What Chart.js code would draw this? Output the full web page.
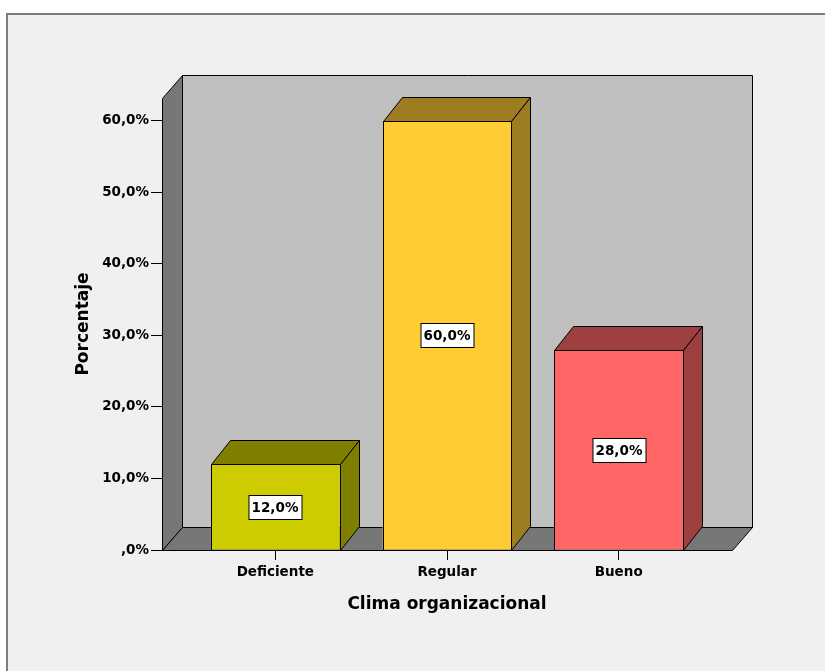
<!DOCTYPE html>
<html>
<head>
<meta charset="utf-8">
<script src="https://cdn.jsdelivr.net/npm/chart.js@4.4.1/dist/chart.umd.min.js"></script>
<style>
  html, body { margin: 0; padding: 0; background: #fff; overflow: hidden; }
  #marco { position: absolute; left: 6px; top: 13px; width: 840px; height: 680px; background: #f0f0f0; border-left: 2px solid #7d7d7d; border-top: 2px solid #7d7d7d; }
  #grafico { position: absolute; left: 0; top: 0; }
</style>
</head>
<body>
<div id="marco"></div>
<canvas id="grafico" width="825" height="671"></canvas>
<script>
// datos
var categorias = ["Deficiente", "Regular", "Bueno"];
var porcentajes = [12.0, 60.0, 28.0];
var ticksY = [0, 10, 20, 30, 40, 50, 60];
var coloresFrente = ["#cccc00", "#ffcc33", "#ff6666"];
var coloresLado = ["#808000", "#9e7c22", "#9e4040"];

var fuente = "DejaVu Sans";
Chart.defaults.font.family = fuente;

function formato(v) {
    if (v === 0) return ",0%";
    return v.toFixed(1).replace(".", ",") + "%";
}

function poligono(ctx, pts, relleno) {
    ctx.beginPath();
    ctx.moveTo(pts[0][0], pts[0][1]);
    for (var i = 1; i < pts.length; i++) ctx.lineTo(pts[i][0], pts[i][1]);
    ctx.closePath();
    ctx.fillStyle = relleno;
    ctx.fill();
    ctx.stroke();
}

// paredes, suelo y caras 3d de las barras
var caja3d = {
    id: "caja3d",
    beforeDatasetsDraw: function (chart) {
        var ctx = chart.ctx, a = chart.chartArea;
        var l = Math.round(a.left) + 0.5, r = Math.round(a.right) + 0.5;
        var t = Math.round(a.top) + 0.5, b = Math.round(a.bottom) + 0.5;
        var dx = 20, dy = 23;
        ctx.save();
        ctx.lineWidth = 1;
        ctx.strokeStyle = "#000";
        poligono(ctx, [[l + dx, t - dy], [r + dx, t - dy], [r + dx, b - dy], [l + dx, b - dy]], "#c0c0c0");
        poligono(ctx, [[l, t], [l + dx, t - dy], [l + dx, b - dy], [l, b]], "#777777");
        poligono(ctx, [[l, b], [l + dx, b - dy], [r + dx, b - dy], [r, b]], "#777777");
        ctx.restore();
    },
    afterDatasetsDraw: function (chart) {
        var ctx = chart.ctx;
        var barras = chart.getDatasetMeta(0).data;
        var dx = 19, dy = 24;
        ctx.save();
        ctx.lineWidth = 1;
        ctx.strokeStyle = "#000";
        barras.forEach(function (barra, i) {
            var p = barra.getProps(["x", "y", "base", "width"], true);
            var izq = Math.round(p.x - p.width / 2) + 0.5;
            var der = Math.round(p.x + p.width / 2) + 0.5;
            var arr = Math.round(p.y) + 0.5;
            var abj = Math.round(p.base) + 0.5;
            ctx.strokeRect(izq, arr, der - izq, abj - arr);
            poligono(ctx, [[izq, arr], [izq + dx, arr - dy], [der + dx, arr - dy], [der, arr]], coloresLado[i]);
            poligono(ctx, [[der, arr], [der + dx, arr - dy], [der + dx, abj - dy], [der, abj]], coloresLado[i]);
        });
        // etiquetas de valor
        ctx.font = "bold 13.5px " + fuente;
        ctx.textAlign = "center";
        ctx.textBaseline = "middle";
        barras.forEach(function (barra, i) {
            var p = barra.getProps(["x", "y", "base"], true);
            var texto = formato(porcentajes[i]);
            var cx = Math.round(p.x), cy = Math.round((p.y + p.base) / 2);
            var w = Math.round(ctx.measureText(texto).width) + 6, h = 24;
            ctx.fillStyle = "#fff";
            ctx.fillRect(cx - w / 2 + 0.5, cy - h / 2 + 0.5, w, h);
            ctx.strokeRect(cx - w / 2 + 0.5, cy - h / 2 + 0.5, w, h);
            ctx.fillStyle = "#000";
            ctx.fillText(texto, cx, cy + 1);
        });
        ctx.restore();
    }
};

new Chart("grafico", {
    type: "bar",
    data: {
        datasets: [
            {
                data: categorias.map(function (c, i) { return { x: i, y: porcentajes[i] }; }),
                backgroundColor: coloresFrente,
                borderWidth: 0,
                barPercentage: 0.75,
                categoryPercentage: 1
            }
        ]
    },
    options: {
        responsive: false,
        animation: false,
        layout: { padding: { top: 98, right: 93, left: 0, bottom: 0 } },
        plugins: {
            legend: { display: false },
            tooltip: { enabled: false }
        },
        scales: {
            x: {
                type: "linear",
                offset: false,
                min: -0.66,
                max: 2.66,
                afterFit: function (s) { s.height = 121; },
                afterBuildTicks: function (s) {
                    s.ticks = categorias.map(function (c, i) { return { value: i }; });
                },
                ticks: {
                    stepSize: 1,
                    includeBounds: false,
                    padding: 4,
                    color: "#000",
                    font: { size: 13.5, weight: "bold" },
                    callback: function (v) { return categorias[v]; }
                },
                grid: { drawOnChartArea: false, offset: false, tickLength: 10, tickColor: "#000" },
                border: { display: false },
                title: {
                    display: true,
                    text: "Clima organizacional",
                    color: "#000",
                    font: { size: 17, weight: "bold" },
                    padding: { top: 0, bottom: 56 }
                }
            },
            y: {
                min: 0,
                max: 63.2,
                afterFit: function (s) { s.width = 162; },
                afterBuildTicks: function (s) {
                    s.ticks = ticksY.map(function (v) { return { value: v }; });
                },
                ticks: {
                    stepSize: 10,
                    includeBounds: false,
                    padding: 2,
                    color: "#000",
                    font: { size: 13.5, weight: "bold" },
                    callback: function (v) { return formato(v); }
                },
                grid: { drawOnChartArea: false, tickLength: 11, tickColor: "#000" },
                border: { display: false },
                title: {
                    display: true,
                    text: "Porcentaje",
                    color: "#000",
                    font: { size: 17, weight: "bold" },
                    padding: { top: 73, bottom: 0 }
                }
            }
        }
    },
    plugins: [caja3d]
});
</script>
</body>
</html>
